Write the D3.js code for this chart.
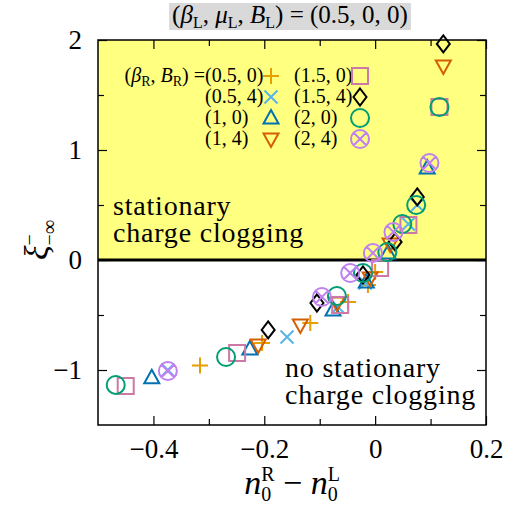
<!DOCTYPE html>
<html>
<head>
<meta charset="utf-8">
<style>
    body { margin: 0; background: #fff; }
    svg { font-family: 'Liberation Serif', 'Times New Roman', serif; }
    text { white-space: pre; }
</style>
</head>
<body>
<svg width="516" height="512"></svg>
<script src="https://d3js.org/d3.v7.min.js"></script>
<script>
    // data: [n0R - n0L, xi]
    const s05_0 = [[-0.316, -0.96], [-0.204, -0.755], [-0.117, -0.573], [-0.049, -0.382], [-0.013, -0.227], [0.0, -0.11]];
    const s05_4 = [[-0.374, -1.0], [-0.159, -0.70], [-0.067, -0.427], [-0.018, -0.209], [0.060, 0.327], [0.076, 0.50]];
    const s1_0 = [[-0.403, -1.07], [-0.226, -0.81], [-0.076, -0.455], [-0.016, -0.20], [0.023, 0.064], [0.094, 0.836]];
    const s1_4 = [[-0.211, -0.773], [-0.135, -0.591], [-0.069, -0.391], [-0.009, -0.164], [0.027, 0.145], [0.123, 1.764]];
    const s15_0 = [[-0.450, -1.145], [-0.249, -0.845], [-0.063, -0.409], [0.009, -0.073], [0.060, 0.318], [0.116, 1.391]];
    const s15_4 = [[-0.193, -0.636], [-0.105, -0.391], [-0.022, -0.136], [0.036, 0.164], [0.076, 0.573], [0.123, 1.964]];
    const s2_0 = [[-0.468, -1.136], [-0.269, -0.882], [-0.069, -0.327], [-0.022, -0.118], [0.022, 0.073], [0.049, 0.327], [0.074, 0.50], [0.116, 1.391]];
    const s2_4 = [[-0.374, -1.009], [-0.096, -0.336], [-0.045, -0.118], [-0.004, 0.064], [0.033, 0.255], [0.098, 0.882]];

    const seriesLabels = ["(0.5, 0)", "(0.5, 4)", "(1, 0)", "(1, 4)", "(1.5, 0)", "(1.5, 4)", "(2, 0)", "(2, 4)"];
    const seriesData = [s05_0, s05_4, s1_0, s1_4, s15_0, s15_4, s2_0, s2_4];
    const seriesColors = ["#e69f00", "#56b4e9", "#0072b2", "#d55e00", "#cc79a7", "#000000", "#009e73", "#c080f0"];
    const seriesShapes = ["plus", "cross", "up", "down", "square", "diamond", "circle", "circlex"];

    const xMajor = [-0.4, -0.2, 0, 0.2];
    const xMinor = [-0.3, -0.1, 0.1];
    const yMajor = [-1, 0, 1, 2];
    const yMinor = [-0.5, 0.5, 1.5];

    const margin = { top: 40, left: 98, right: 30, bottom: 87 };
    const width = 516 - margin.left - margin.right;
    const height = 512 - margin.top - margin.bottom;

    const svg = d3.select("svg");
    const g = svg.append("g").attr("transform", `translate(${margin.left},${margin.top})`);

    const x = d3.scaleLinear().domain([-0.5, 0.2]).range([0, width]);
    const y = d3.scaleLinear().domain([-1.5, 2]).range([height, 0]);

    // yellow region (clogging)
    g.append("rect")
        .attr("x", 0).attr("y", y(2))
        .attr("width", width).attr("height", y(0) - y(2))
        .style("fill", "#ffff80");

    // axes with inward ticks
    const fmt = d3.format("");
    const axes = [
        [d3.axisBottom(x).tickValues(xMajor).tickSize(-9).tickPadding(14).tickFormat(fmt), `translate(0,${height})`],
        [d3.axisBottom(x).tickValues(xMinor).tickSize(-6).tickFormat(""), `translate(0,${height})`],
        [d3.axisTop(x).tickValues(xMajor).tickSize(-9).tickFormat(""), null],
        [d3.axisTop(x).tickValues(xMinor).tickSize(-6).tickFormat(""), null],
        [d3.axisLeft(y).tickValues(yMajor).tickSize(-9).tickPadding(16).tickFormat(fmt), null],
        [d3.axisLeft(y).tickValues(yMinor).tickSize(-6).tickFormat(""), null],
        [d3.axisRight(y).tickValues(yMajor).tickSize(-9).tickFormat(""), `translate(${width},0)`],
        [d3.axisRight(y).tickValues(yMinor).tickSize(-6).tickFormat(""), `translate(${width},0)`]
    ];
    axes.forEach(([ax, tr]) => {
        const a = g.append("g").call(ax);
        if (tr) a.attr("transform", tr);
        a.select(".domain").remove();
        a.selectAll("line").style("stroke", "#000").style("stroke-width", 1.2);
        a.selectAll("text")
            .style("font-family", "'Liberation Serif', serif")
            .style("font-size", "27px")
            .style("fill", "#000");
    });

    // frame
    g.append("rect")
        .attr("width", width).attr("height", height)
        .style("fill", "none").style("stroke", "#000").style("stroke-width", 1.5);

    // zero line
    g.append("line")
        .attr("x1", 0).attr("x2", width)
        .attr("y1", y(0)).attr("y2", y(0))
        .style("stroke", "#000").style("stroke-width", 3);

    // marker shapes
    function shapePath(kind) {
        switch (kind) {
            case "plus": return "M-8,0H8M0,-8V8";
            case "cross": return "M-6.5,-6.5L6.5,6.5M-6.5,6.5L6.5,-6.5";
            case "up": return "M0,-8L7.5,5.5L-7.5,5.5Z";
            case "down": return "M0,8L7.5,-5.5L-7.5,-5.5Z";
            case "square": return "M-8,-8H8V8H-8Z";
            case "diamond": return "M0,-8.5L6.5,0L0,8.5L-6.5,0Z";
            case "circle": return "M9,0A9,9 0 1,1 -9,0A9,9 0 1,1 9,0Z";
            case "circlex": return "M9,0A9,9 0 1,1 -9,0A9,9 0 1,1 9,0ZM-6.3,-6.3L6.3,6.3M-6.3,6.3L6.3,-6.3";
        }
    }

    function drawMarker(sel, kind, color) {
        sel.append("path")
            .attr("d", shapePath(kind))
            .style("fill", "none")
            .style("stroke", color)
            .style("stroke-width", 2);
    }

    // points
    seriesData.forEach((data, i) => {
        g.selectAll(".pt" + i)
            .data(data)
            .join("g")
            .attr("class", "pt" + i)
            .attr("transform", d => `translate(${x(d[0])},${y(d[1])})`)
            .each(function () { drawMarker(d3.select(this), seriesShapes[i], seriesColors[i]); });
    });

    // text with sub/superscripts, placed piece by piece
    function rich(parent, parts, base) {
        const t = parent.append("g");
        let cx = 0, lastStart = 0;
        parts.forEach(p => {
            const start = p.stack ? lastStart : cx;
            const el = t.append("text")
                .attr("x", start).attr("y", p.dy || 0)
                .style("font-size", (p.s || base) + "px")
                .style("font-style", p.i ? "italic" : "normal")
                .style("fill", "#000")
                .text(p.t);
            const w = el.node().getComputedTextLength();
            cx = p.stack ? Math.max(cx, start + w) : start + w;
            lastStart = start;
        });
        return { g: t, width: cx };
    }

    // title with grey box
    const title = rich(svg, [
        { t: "(" }, { t: "β", i: true }, { t: "L", s: 16, dy: 5 }, { t: ", " },
        { t: "μ", i: true }, { t: "L", s: 16, dy: 5 }, { t: ", " },
        { t: "B", i: true }, { t: "L", s: 16, dy: 5 }, { t: ") = (0.5, 0, 0)" }
    ], 25);
    const tx = 290 - title.width / 2;
    svg.insert("rect", ":first-child")
        .attr("x", tx - 3).attr("y", 3)
        .attr("width", title.width + 6).attr("height", 27)
        .style("fill", "#d9d9d9");
    title.g.attr("transform", `translate(${tx},23)`);

    // legend
    const leg = g.append("g");
    const header = rich(leg, [
        { t: "(" }, { t: "β", i: true }, { t: "R", s: 14, dy: 4 }, { t: ", " },
        { t: "B", i: true }, { t: "R", s: 14, dy: 4 }, { t: ") =" }
    ], 20);
    header.g.attr("transform", `translate(${107 - header.width},42)`);
    const rowY = [42, 63, 84, 105];
    seriesLabels.forEach((lab, i) => {
        const col = Math.floor(i / 4), row = i % 4;
        const lx = col === 0 ? 107 : 196;
        leg.append("text")
            .attr("x", lx).attr("y", rowY[row])
            .style("font-size", "20px")
            .text(lab);
        const m = leg.append("g").attr("transform", `translate(${lx + 66},${rowY[row] - 6})`);
        drawMarker(m, seriesShapes[i], seriesColors[i]);
    });

    // annotations
    const notes = [["stationary", 15, 175], ["charge clogging", 15, 202], ["no stationary", 187, 337], ["charge clogging", 187, 364]];
    notes.forEach(([t, nx, ny]) => {
        g.append("text").attr("x", nx).attr("y", ny)
            .style("font-size", "28px")
            .style("letter-spacing", "0.8px")
            .text(t);
    });

    // x label
    const xl = rich(svg, [
        { t: "n", i: true }, { t: "R", s: 20, dy: -13 }, { t: "0", s: 20, dy: 7, stack: true },
        { t: " − " }, { t: "n", i: true }, { t: "L", s: 20, dy: -13 }, { t: "0", s: 20, dy: 7, stack: true }
    ], 34);
    xl.g.attr("transform", `translate(${margin.left + width / 2 - xl.width / 2},494)`);

    // y label
    const yl = rich(svg, [
        { t: "ξ", i: true }, { t: "−", s: 20, dy: -12 }, { t: "−∞", s: 20, dy: 8, stack: true }
    ], 34);
    yl.g.attr("transform", `translate(48,${240 + yl.width / 2}) rotate(-90)`);
</script>
</body>
</html>
